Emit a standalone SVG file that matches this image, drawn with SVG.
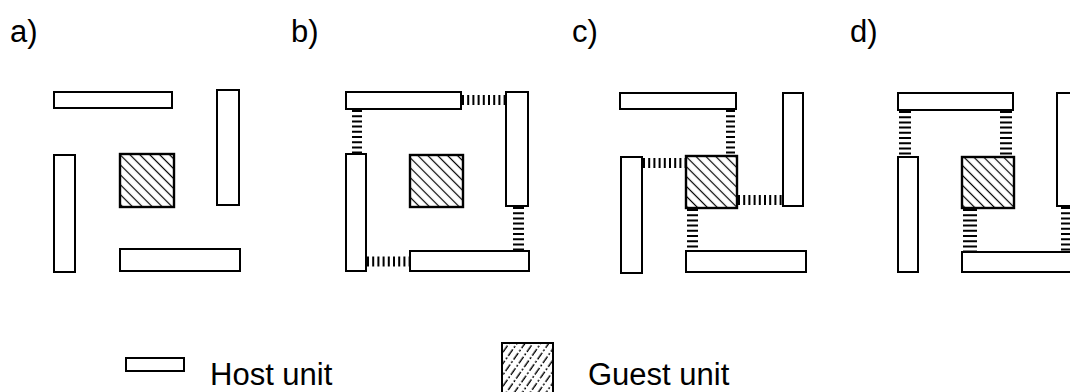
<svg xmlns="http://www.w3.org/2000/svg" width="1070" height="392" viewBox="0 0 1070 392">
  <defs>
    <!-- diagonal "\" hatching for guest units -->
    <pattern id="hatch" patternUnits="userSpaceOnUse" width="7" height="7" patternTransform="rotate(45)">
      <line x1="0" y1="3.5" x2="7" y2="3.5" stroke="#000" stroke-width="1.2"/>
    </pattern>
    <!-- broken "/" hatching used in the legend swatch -->
    <pattern id="hatch-legend" patternUnits="userSpaceOnUse" width="14" height="6.5" patternTransform="rotate(-55)">
      <line x1="0" y1="3" x2="14" y2="3" stroke="#000" stroke-width="1.3" stroke-dasharray="8 2 2 2"/>
    </pattern>
    <style>
      .host { fill: #fff; stroke: #000; stroke-width: 2; }
      .guest { fill: url(#hatch); stroke: #000; stroke-width: 2.4; }
      .bond { stroke: #000; stroke-dasharray: 2 3.2; fill: none; }
      .label { font-family: "Liberation Sans", Arial, sans-serif; font-size: 31px; fill: #000; }
      .legend-text { font-family: "Liberation Sans", Arial, sans-serif; font-size: 31px; fill: #000; }
    </style>
  </defs>

  <!-- panel labels -->
  <text class="label" x="10" y="42">a)</text>
  <text class="label" x="291" y="42">b)</text>
  <text class="label" x="572" y="42">c)</text>
  <text class="label" x="850" y="42">d)</text>

  <!-- panel a: separated units -->
  <g id="a-host-top"><rect class="host" x="54" y="92" width="118" height="16"/></g>
  <g id="a-host-right"><rect class="host" x="217" y="90" width="22" height="115"/></g>
  <g id="a-host-left"><rect class="host" x="54" y="155" width="21" height="117"/></g>
  <g id="a-host-bottom"><rect class="host" x="120" y="249" width="120" height="22"/></g>
  <g id="a-guest"><rect class="guest" x="120" y="154" width="54" height="53"/></g>

  <!-- panel b: host ring around guest -->
  <g id="b-host-top"><rect class="host" x="346" y="92" width="115" height="17"/></g>
  <g id="b-host-right"><rect class="host" x="506" y="92" width="22" height="114"/></g>
  <g id="b-host-left"><rect class="host" x="346" y="154" width="20" height="117"/></g>
  <g id="b-host-bottom"><rect class="host" x="410" y="251" width="119" height="20"/></g>
  <g id="b-guest"><rect class="guest" x="410" y="155" width="53" height="52"/></g>

  <!-- panel c: guest bonded to all hosts -->
  <g id="c-host-top"><rect class="host" x="620" y="93" width="116" height="16"/></g>
  <g id="c-host-right"><rect class="host" x="783" y="93" width="20" height="113"/></g>
  <g id="c-host-left"><rect class="host" x="621" y="157" width="21" height="116"/></g>
  <g id="c-host-bottom"><rect class="host" x="686" y="251" width="120" height="21"/></g>
  <g id="c-guest"><rect class="guest" x="686" y="156" width="51" height="52"/></g>

  <!-- panel d: chain arrangement -->
  <g id="d-host-top"><rect class="host" x="898" y="93" width="115" height="17"/></g>
  <g id="d-host-right"><rect class="host" x="1057" y="93" width="22" height="113"/></g>
  <g id="d-host-left"><rect class="host" x="898" y="157" width="20" height="115"/></g>
  <g id="d-host-bottom"><rect class="host" x="962" y="252" width="120" height="20"/></g>
  <g id="d-guest"><rect class="guest" x="962" y="157" width="52" height="51"/></g>

  <!-- bonds between units -->
  <g id="connectors">
    <line class="bond" x1="462" y1="100" x2="506" y2="100" stroke-width="10"/>
    <line class="bond" x1="357" y1="110" x2="357" y2="154" stroke-width="10"/>
    <line class="bond" x1="518.5" y1="207" x2="518.5" y2="251" stroke-width="11"/>
    <line class="bond" x1="367" y1="261.5" x2="410" y2="261.5" stroke-width="10"/>

    <line class="bond" x1="730.5" y1="110" x2="730.5" y2="156" stroke-width="9"/>
    <line class="bond" x1="643" y1="163" x2="686" y2="163" stroke-width="10"/>
    <line class="bond" x1="738" y1="200" x2="783" y2="200" stroke-width="10"/>
    <line class="bond" x1="692.5" y1="209" x2="692.5" y2="251" stroke-width="11"/>

    <line class="bond" x1="905" y1="111" x2="905" y2="157" stroke-width="12"/>
    <line class="bond" x1="1006" y1="111" x2="1006" y2="157" stroke-width="12"/>
    <line class="bond" x1="970" y1="209" x2="970" y2="252" stroke-width="14"/>
    <line class="bond" x1="1067" y1="207" x2="1067" y2="252" stroke-width="12"/>
  </g>

  <!-- legend -->
  <g id="legend-host">
    <rect class="host" x="126" y="358" width="58" height="13"/>
    <text class="legend-text" x="210" y="385">Host unit</text>
  </g>
  <g id="legend-guest">
    <rect x="502" y="343" width="51" height="52" fill="url(#hatch-legend)" stroke="#000" stroke-width="2"/>
    <text class="legend-text" x="588" y="385">Guest unit</text>
  </g>
</svg>
